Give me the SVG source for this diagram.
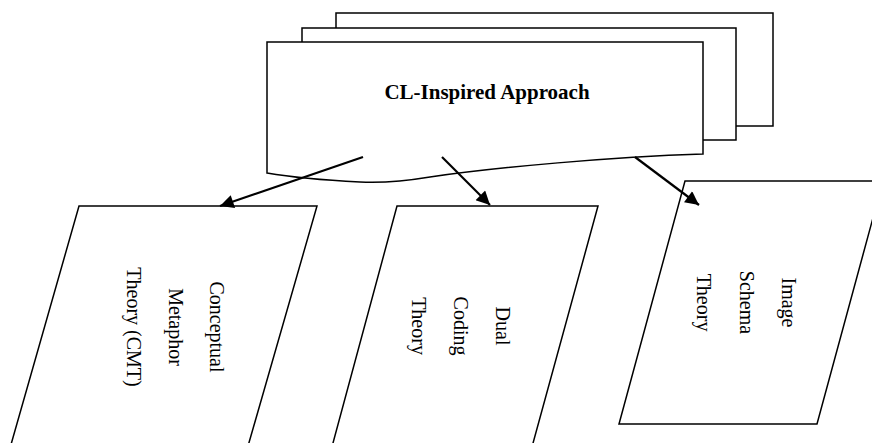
<svg xmlns="http://www.w3.org/2000/svg" width="872" height="443" viewBox="0 0 872 443">
<style>
.sh{fill:#fff;stroke:#000;stroke-width:1.5;stroke-linejoin:miter}
.cn{stroke:#000;stroke-width:2.2;fill:none}
.t{font-family:"Liberation Serif","Times New Roman",serif;font-size:20px;fill:#000}
.tb{font-family:"Liberation Serif","Times New Roman",serif;font-size:21px;font-weight:bold;fill:#000}
</style>
<defs>
<marker id="ah" viewBox="0 0 10 10" refX="10" refY="5" markerWidth="7.5" markerHeight="6.2" markerUnits="strokeWidth" orient="auto">
<path d="M0,0 L10,5 L0,10 Z" fill="#000"/>
</marker>
</defs>
<g id="approach">
<rect class="sh" x="336" y="13" width="437" height="113"/>
<rect class="sh" x="302" y="28" width="434" height="112"/>
<path class="sh" d="M267,42 L703,42 L703,154 C610,157 500,167 430,177 C400,182 380,183 360,182 C320,180 290,177 267,173 Z"/>
<text class="tb" x="487" y="99" text-anchor="middle">CL-Inspired Approach</text>
</g>
<g id="cmt">
<path class="sh" d="M79,206 L317,206 L244,460 L6.6,460 Z"/>
<text class="t" transform="translate(210,327) rotate(90)" text-anchor="middle"><tspan x="0" y="0">Conceptual</tspan><tspan x="0" y="41.5">Metaphor</tspan><tspan x="0" y="83">Theory (CMT)</tspan></text>
</g>
<g id="dual">
<path class="sh" d="M397,206 L598,206 L528.4,460 L328.4,460 Z"/>
<text class="t" transform="translate(496,326) rotate(90)" text-anchor="middle"><tspan x="0" y="0">Dual</tspan><tspan x="0" y="42">Coding</tspan><tspan x="0" y="84">Theory</tspan></text>
</g>
<g id="image">
<path class="sh" d="M685,181 L883,181 L817,424 L619,424 Z"/>
<text class="t" transform="translate(782,302.5) rotate(90)" text-anchor="middle"><tspan x="0" y="0">Image</tspan><tspan x="0" y="42.5">Schema</tspan><tspan x="0" y="85">Theory</tspan></text>
</g>
<g id="connectors">
<line class="cn" x1="363" y1="157" x2="220" y2="206" marker-end="url(#ah)"/>
<line class="cn" x1="442" y1="157" x2="490" y2="205" marker-end="url(#ah)"/>
<line class="cn" x1="635" y1="157" x2="699" y2="205" marker-end="url(#ah)"/>
</g>
</svg>
